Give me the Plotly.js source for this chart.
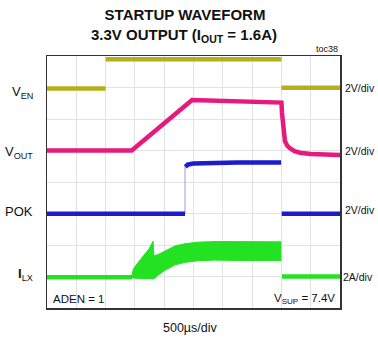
<!DOCTYPE html>
<html>
<head>
<meta charset="utf-8">
<script src="https://cdn.plot.ly/plotly-3.0.1.min.js"></script>
<style>
  html, body { margin: 0; padding: 0; background: #fff; }
  #chart { width: 378px; height: 342px; }
</style>
</head>
<body>
<div id="chart"></div>
<script>
// Time axis in divisions (500 µs/div), vertical axis in screen divisions
var venX   = [0, 2.0, null, 2.0, 8.0, null, 8.0, 10];
var venY   = [6.97, 6.97, null, 7.9, 7.9, null, 6.99, 6.99];

var voutX  = [0, 2.89, 4.95, 5.5, 6.5, 7.5, 8.0, 8.02, 8.05, 8.08, 8.12, 8.2, 8.29, 8.45, 8.63, 9.0, 9.5, 10];
var voutY  = [5.0, 5.0, 6.6, 6.59, 6.56, 6.54, 6.52, 6.2, 5.85, 5.55, 5.3, 5.15, 5.07, 4.98, 4.93, 4.89, 4.87, 4.86];

var pokX   = [0, 4.71, null, 4.72, 4.8, 5.0, 5.5, 6.5, 7.5, 7.99, null, 8.01, 10];
var pokY   = [2.99, 2.99, null, 4.48, 4.55, 4.59, 4.61, 4.62, 4.62, 4.62, null, 2.99, 2.99];
var pokEdgeX = [4.71, 4.71];
var pokEdgeY = [2.99, 4.48];

var ilxBaseX = [0, 2.9, null, 8.02, 10];
var ilxBaseY = [0.98, 0.98, null, 1.0, 1.0];
var ilxBandX  = [2.89, 2.95, 3.2, 3.5, 3.55, 3.62, 3.65, 3.8, 4.03, 4.37, 4.71, 5.15, 5.73, 6.5, 7.0, 7.5, 8.0];
var ilxUpper  = [1.0, 1.25, 1.55, 1.9, 2.0, 2.12, 1.65, 1.7, 1.81, 1.97, 2.04, 2.09, 2.11, 2.1, 2.11, 2.1, 2.1];
var ilxLower  = [0.96, 0.95, 0.94, 0.94, 0.94, 0.94, 0.93, 1.05, 1.2, 1.37, 1.45, 1.5, 1.52, 1.51, 1.52, 1.51, 1.51];

var leftLabels  = ['V<sub>EN</sub>', 'V<sub>OUT</sub>', 'POK', '<b>I</b><sub>LX</sub>'];
var leftLabelY  = [6.85, 4.95, 3.05, 1.05];
var rightLabels = ['2V/div', '2V/div', '2V/div', '2A/div'];
var rightLabelY = [6.97, 4.98, 3.1, 1.0];
var rightLabelX = [1.012, 1.012, 1.012, 1.006];

var cOlive = '#b4b01c', cPink = '#e8197c', cBlue = '#1c1ccc', cGreen = '#22e222';
var FN = '"Liberation Sans", Arial, sans-serif';

var traces = [
  {x: venX, y: venY, mode: 'lines', line: {color: cOlive, width: 4.5}, hoverinfo: 'skip'},
  {x: voutX, y: voutY, mode: 'lines', line: {color: cPink, width: 4.5}, hoverinfo: 'skip'},
  {x: pokEdgeX, y: pokEdgeY, mode: 'lines', line: {color: '#9a9ad8', width: 1}, hoverinfo: 'skip'},
  {x: pokX, y: pokY, mode: 'lines', line: {color: cBlue, width: 4.5}, hoverinfo: 'skip'},
  {x: ilxBaseX, y: ilxBaseY, mode: 'lines', line: {color: cGreen, width: 4.5}, hoverinfo: 'skip'},
  {x: ilxBandX, y: ilxLower, mode: 'lines', line: {color: cGreen, width: 1}, hoverinfo: 'skip'},
  {x: ilxBandX, y: ilxUpper, mode: 'lines', fill: 'tonexty', fillcolor: cGreen, line: {color: cGreen, width: 1}, hoverinfo: 'skip'}
];

var ann = [];
leftLabels.forEach(function (t, i) {
  ann.push({text: t, xref: 'paper', yref: 'y', x: -0.04, y: leftLabelY[i], xanchor: 'right', yanchor: 'middle',
            showarrow: false, font: {family: FN, size: 13, color: '#111'}});
});
rightLabels.forEach(function (t, i) {
  ann.push({text: t, xref: 'paper', yref: 'y', x: rightLabelX[i], y: rightLabelY[i], xanchor: 'left', yanchor: 'middle',
            showarrow: false, borderpad: 0, font: {family: FN, size: 10.5, color: '#111'}});
});
ann.push({text: 'ADEN = 1', xref: 'paper', yref: 'paper', x: 0.015, y: 0.037, xanchor: 'left', yanchor: 'middle',
          showarrow: false, font: {family: FN, size: 11.5, color: '#111'}});
ann.push({text: 'V<sub>SUP</sub> = 7.4V', xref: 'paper', yref: 'paper', x: 0.99, y: 0.037, xanchor: 'right', yanchor: 'middle',
          showarrow: false, font: {family: FN, size: 11.5, color: '#111'}});
ann.push({text: 'toc38', xref: 'paper', yref: 'paper', x: 1.0, y: 1.0, xanchor: 'right', yanchor: 'bottom',
          showarrow: false, font: {family: FN, size: 9, color: '#111'}});
ann.push({text: '500µs/div', xref: 'paper', yref: 'paper', x: 0.49, y: -0.08, xanchor: 'center', yanchor: 'middle',
          showarrow: false, font: {family: FN, size: 12.5, color: '#111'}});
ann.push({text: '<b>3.3V OUTPUT (I<sub>OUT</sub> = 1.6A)</b>', xref: 'paper', yref: 'paper',
          x: (184 - 47) / 293, y: (308 - 35) / 252, xanchor: 'center', yanchor: 'middle',
          showarrow: false, font: {family: FN, size: 15, color: '#111'}});

var layout = {
  width: 378, height: 342,
  margin: {l: 47, r: 38, t: 56, b: 34, pad: 0},
  paper_bgcolor: '#fff', plot_bgcolor: '#fff',
  showlegend: false,
  title: {text: '<b>STARTUP WAVEFORM</b>',
          font: {family: FN, size: 15, color: '#111'},
          xref: 'container', x: 185 / 378, xanchor: 'center',
          yref: 'container', y: 1 - 15 / 342, yanchor: 'middle'},
  xaxis: {range: [0, 10], dtick: 1, tick0: 0, showticklabels: false, ticks: '',
          showgrid: true, gridcolor: '#e2e2e2', gridwidth: 1, zeroline: false,
          showline: true, linecolor: '#333', linewidth: 1.5, mirror: true, fixedrange: true},
  yaxis: {range: [0, 8], dtick: 1, tick0: 0, showticklabels: false, ticks: '',
          showgrid: true, gridcolor: '#e2e2e2', gridwidth: 1, zeroline: false,
          showline: true, linecolor: '#333', linewidth: 1.5, mirror: true, fixedrange: true},
  annotations: ann
};

Plotly.newPlot('chart', traces, layout, {displayModeBar: false, staticPlot: true});
</script>
</body>
</html>
